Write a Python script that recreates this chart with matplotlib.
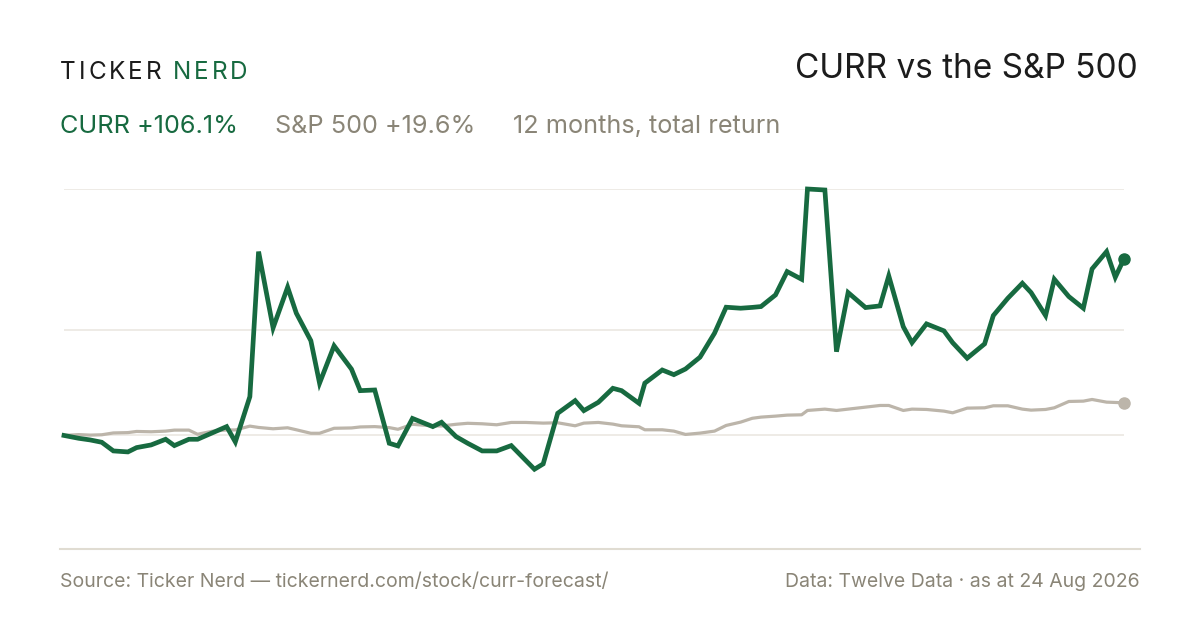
import matplotlib
matplotlib.use("Agg")
import matplotlib.pyplot as plt
from matplotlib.lines import Line2D

plt.rcParams['font.family'] = ['Inter', 'DejaVu Sans']

# days since 24 Aug 2025, total return in %
days = [0, 5, 9, 13, 17, 22, 25, 30, 35, 38, 43, 46, 51, 56, 59, 64, 67, 72, 77, 80,
        85, 88, 93, 99, 102, 107, 112, 115, 120, 127, 130, 135, 139, 144, 149, 154, 159, 162, 165, 170,
        176, 179, 184, 189, 192, 198, 200, 206, 210, 214, 219, 224, 228, 233, 237, 240, 245, 249, 254, 256,
        262, 266, 270, 276, 281, 284, 289, 292, 297, 303, 306, 311, 317, 320, 325, 330, 333, 338, 341, 346,
        351, 354, 359, 362, 365]

curr = [0, -1.7, -2.7, -4.1, -9.3, -9.9, -7.3, -5.7, -2.3, -6.1, -2.3, -2.3, 1.5, 5.3, -3.9, 23.3, 110.4, 64.6, 89.0, 73.4,
        56.9, 31.4, 53.8, 39.8, 26.9, 27.3, -4.7, -6.3, 10.2, 5.3, 7.9, -0.7, -4.7, -9.3, -9.3, -6.1, -15.0, -20.3, -17.1, 13.3,
        20.9, 14.9, 19.9, 28.3, 26.9, 19.3, 31.4, 39.3, 36.5, 39.9, 47.0, 61.4, 77.0, 76.4, 76.9, 77.4, 84.4, 98.4, 93.8, 148.0,
        147.4, 50.3, 85.8, 76.8, 77.8, 95.8, 65.3, 55.7, 67.0, 62.8, 55.7, 46.4, 55.0, 72.0, 82.4, 91.4, 85.8, 72.0, 93.8, 83.4,
        76.4, 100.0, 110.4, 95.0, 106.1]

spx = [0, 0.5, 0.2, 0.4, 1.5, 1.7, 2.4, 2.2, 2.6, 3.2, 3.2, 0.7, 2.5, 3.3, 3.3, 5.6, 4.8, 4.0, 4.6, 3.4,
       1.3, 1.3, 4.3, 4.5, 5.1, 5.3, 4.7, 3.7, 6.7, 5.7, 5.7, 6.7, 7.3, 7.0, 6.4, 7.8, 7.8, 7.6, 7.4, 7.6,
       5.8, 7.4, 7.8, 6.8, 5.8, 5.2, 3.4, 3.4, 2.6, 0.6, 1.4, 2.6, 6.0, 8.0, 10.3, 11.0, 11.6, 12.2, 12.4, 15.0,
       15.8, 15.0, 15.8, 17.0, 18.0, 18.0, 15.0, 15.8, 15.6, 14.6, 13.6, 16.4, 16.6, 17.8, 17.8, 15.8, 15.2, 15.6, 16.6, 20.4,
       20.6, 21.6, 20.0, 19.8, 19.6]

grid_levels = [0, 63.4, 148.0]

GREEN = '#176a40'
GREY_LINE = '#bcb5aa'
GREY_TEXT = '#8a8577'
DARK = '#1c1c1c'

W, H = 1200, 630
fig = plt.figure(figsize=(12, 6.3), dpi=100)
fig.patch.set_facecolor('white')

def fx(px):
    return px / W

def fy(py):
    return 1 - py / H

ax = fig.add_axes([fx(64), fy(548), fx(1124) - fx(64), fy(189) - fy(548)])
ax.set_xlim(0, 365)
ax.set_ylim(-67.6, 148.0)
ax.axis('off')

for g in grid_levels:
    ax.axhline(g, color='#ebe8e2', lw=1.2, zorder=1)

ax.plot(days, spx, color=GREY_LINE, lw=2.3, solid_joinstyle='round', zorder=2, clip_on=False)
ax.plot(days, curr, color=GREEN, lw=3.4, solid_joinstyle='miter', zorder=3, clip_on=False)
ax.plot(days[-1], spx[-1], 'o', color=GREY_LINE, ms=8, zorder=4, clip_on=False)
ax.plot(days[-1], curr[-1], 'o', color=GREEN, ms=8, zorder=4, clip_on=False)

# bottom rule
fig.add_artist(Line2D([fx(60), fx(1140)], [fy(549), fy(549)], color='#e0dcd2', lw=1.5))

renderer = fig.canvas.get_renderer()

def spaced(x, y, s, color, size, track):
    # draw text one letter at a time to get letter spacing
    for ch in s:
        t = fig.text(fx(x), fy(y), ch, color=color, fontsize=size, va='baseline', ha='left')
        bb = t.get_window_extent(renderer)
        x += bb.width + track
    return x

xend = spaced(60, 79, 'TICKER', DARK, 17.5, 3.0)
spaced(xend + 8, 79, 'NERD', GREEN, 17.5, 3.0)

fig.text(fx(1138), fy(78), 'CURR vs the S&P 500', color=DARK, fontsize=24, ha='right', va='baseline')

fig.text(fx(60), fy(133), 'CURR +106.1%', color=GREEN, fontsize=18.2, va='baseline')
fig.text(fx(275), fy(133), 'S&P 500 +19.6%', color=GREY_TEXT, fontsize=18.2, va='baseline')
fig.text(fx(513), fy(133), '12 months, total return', color=GREY_TEXT, fontsize=18.2, va='baseline')

fig.text(fx(60), fy(587), 'Source: Ticker Nerd \u2014 tickernerd.com/stock/curr-forecast/', color=GREY_TEXT,
         fontsize=14, va='baseline')
fig.text(fx(1140), fy(587), 'Data: Twelve Data \u00b7 as at 24 Aug 2026', color=GREY_TEXT,
         fontsize=14, ha='right', va='baseline')

fig.savefig('out.png', dpi=100, facecolor='white')
